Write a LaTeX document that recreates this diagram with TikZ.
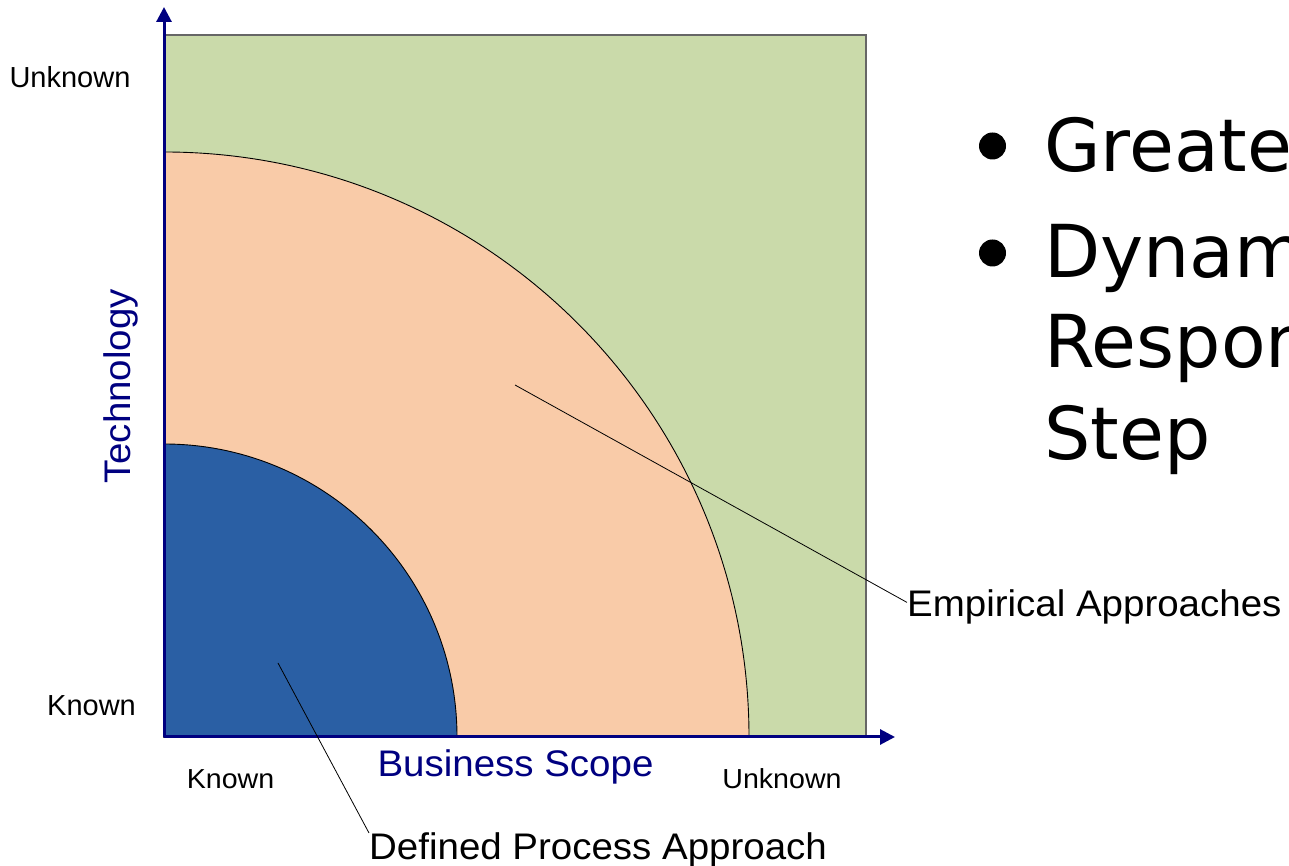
\documentclass[tikz,border=0pt]{standalone}
\usepackage{fontspec}
\setmainfont{Liberation Sans}
\newfontfamily\widefont[FakeStretch=1.04]{Liberation Sans}
\newfontfamily\slidefont{DejaVu Sans}
\usepackage{tikz}
\usetikzlibrary{arrows.meta}
\definecolor{unknowngreen}{HTML}{CADAAA}
\definecolor{empiricalpeach}{HTML}{F9CBA8}
\definecolor{definedblue}{HTML}{2A5FA4}
\definecolor{axisnavy}{HTML}{000080}
\tikzset{
  axis/.style={axisnavy, line width=3pt, -{Triangle[length=15pt,width=15pt]}},
  leader/.style={black, line width=0.8pt},
}

\begin{document}
\begin{tikzpicture}
    [
        x=1pt, y=1pt,
        region/.style={draw=black, line width=0.9pt},
        sidelabel/.style={font=\fontsize{29}{34}\selectfont, anchor=base, inner sep=0pt},
        baselabel/.style={font=\widefont\fontsize{27.5}{32}\selectfont, anchor=base, inner sep=0pt},
        title/.style={font=\widefont\fontsize{37}{44}\selectfont, text=axisnavy, anchor=base, inner sep=0pt},
        callout/.style={font=\widefont\fontsize{37}{44}\selectfont, anchor=base west, inner sep=0pt},
        slide/.style={font=\slidefont\fontsize{73}{88}\selectfont, anchor=base west, inner sep=0pt},
        dot/.style={circle, fill=black, minimum size=27pt, inner sep=0pt},
    ]
\useasboundingbox (0,0) rectangle (1289,866);
\coordinate (O) at (164,129);

% regions
\filldraw[fill=unknowngreen, draw=black!60, line width=1.4pt] (O) rectangle (866,831);
\filldraw[region, fill=empiricalpeach] (O) -- ++(585,0) arc (0:90:585) -- cycle;
\filldraw[region, fill=definedblue] (O) -- ++(293,0) arc (0:90:293) -- cycle;

% axes
\coordinate (ytip) at (164,859);
\coordinate (xtip) at (895,129);
\draw[axis] (O) -- (ytip);
\draw[axis] (O) -- (xtip);

% axis labels
\node[sidelabel] (yunknown) at (70,778) {Unknown};
\node[sidelabel] (yknown) at (91.5,150) {Known};
\node[baselabel] (xknown) at (230.5,77) {Known};
\node[baselabel] (xunknown) at (782,77) {Unknown};
\node[title] (xtitle) at (515.5,89.3) {Business Scope};
\node[title, rotate=90] (ytitle) at (130,479.5) {Technology};

% callouts
\coordinate (definedpt) at (278,203);
\coordinate (empiricalpt) at (515,481);
\node[callout] (defined) at (369,6) {Defined Process Approach};
\node[callout] (empirical) at (907,249) {Empirical Approaches};
\draw[leader] (definedpt) -- (defined.north west);
\draw[leader] (empiricalpt) -- ([yshift=5pt]empirical.west);

% slide text
\foreach \y [count=\i] in {720,613}
    \node[dot] (dot\i) at (992.5,\y) {};
\foreach \txt/\y [count=\i] in {Greate/694,Dynam/588,Respon/498,Step/406}
    \node[slide] (line\i) at (1044,\y) {\txt};
\end{tikzpicture}
\end{document}
